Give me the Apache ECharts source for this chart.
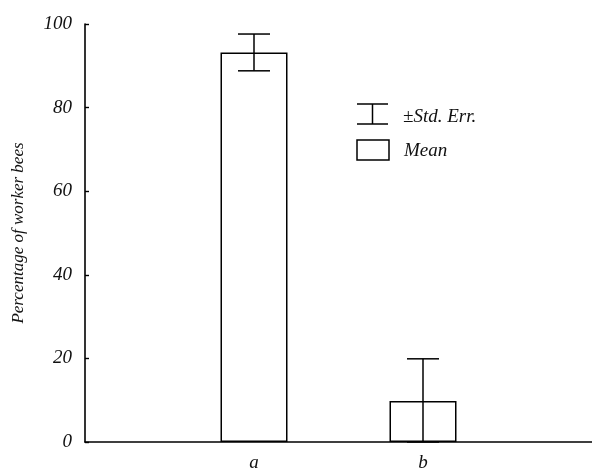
<!DOCTYPE html>
<html>
<head>
<meta charset="utf-8">
<script src="https://cdn.jsdelivr.net/npm/echarts@6/dist/echarts.min.js"></script>
<style>html,body{margin:0;padding:0;background:#fff;}#c{width:592px;height:468px;}</style>
</head>
<body>
<div id="c"></div>
<script>
var categories = ['', 'a', 'b', ''];
var means = [null, 93.2, 9.8, null];
var errLow = [null, 88.8, 0, null];
var errHigh = [null, 97.6, 19.9, null];
var yTicks = [0, 20, 40, 60, 80, 100];

var FONT = '"Liberation Serif", "DejaVu Serif", serif';
var errData = [];
for (var i = 0; i < categories.length; i++) {
  if (means[i] !== null) errData.push([i, errLow[i], errHigh[i]]);
}

var chart = echarts.init(document.getElementById('c'), null, {renderer: 'canvas'});
chart.setOption({
  animation: false,
  backgroundColor: '#fff',
  grid: {left: 85, right: 0, top: 24, bottom: 26, containLabel: false, outerBoundsMode: 'none'},
  xAxis: {
    type: 'category',
    data: categories,
    boundaryGap: false,
    axisLine: {show: true, lineStyle: {color: '#000', width: 1.6}},
    axisTick: {show: false},
    axisLabel: {fontFamily: FONT, fontStyle: 'italic', fontSize: 19, color: '#111', margin: 11},
    splitLine: {show: false}
  },
  yAxis: {
    type: 'value',
    min: yTicks[0],
    max: yTicks[yTicks.length - 1],
    interval: 20,
    name: 'Percentage of worker bees',
    nameLocation: 'middle',
    nameGap: 58,
    nameRotate: 90,
    nameTextStyle: {fontFamily: FONT, fontStyle: 'italic', fontSize: 17, color: '#111'},
    axisLine: {show: true, lineStyle: {color: '#000', width: 1.6}},
    axisTick: {show: true, inside: true, length: 4, lineStyle: {color: '#000', width: 1.4}},
    axisLabel: {fontFamily: FONT, fontStyle: 'italic', fontSize: 19, color: '#111', margin: 13},
    splitLine: {show: false}
  },
  series: [
    {
      type: 'bar',
      data: means,
      barWidth: 67,
      itemStyle: {color: '#fff', borderColor: '#000', borderWidth: 1.5},
      z: 2
    },
    {
      type: 'custom',
      data: errData,
      encode: {x: 0, y: [1, 2]},
      z: 3,
      renderItem: function (params, api) {
        var x = api.value(0);
        var lo = api.coord([x, api.value(1)]);
        var hi = api.coord([x, api.value(2)]);
        var hw = 16;
        var st = {stroke: '#000', lineWidth: 1.5};
        return {
          type: 'group',
          children: [
            {type: 'line', shape: {x1: hi[0], y1: hi[1], x2: lo[0], y2: lo[1]}, style: st},
            {type: 'line', shape: {x1: hi[0] - hw, y1: hi[1], x2: hi[0] + hw, y2: hi[1]}, style: st},
            {type: 'line', shape: {x1: lo[0] - hw, y1: lo[1], x2: lo[0] + hw, y2: lo[1]}, style: st}
          ]
        };
      }
    }
  ],
  graphic: [
    {type: 'line', shape: {x1: 357, y1: 104, x2: 388, y2: 104}, style: {stroke: '#000', lineWidth: 1.5}},
    {type: 'line', shape: {x1: 357, y1: 124, x2: 388, y2: 124}, style: {stroke: '#000', lineWidth: 1.5}},
    {type: 'line', shape: {x1: 372.5, y1: 104, x2: 372.5, y2: 124}, style: {stroke: '#000', lineWidth: 1.5}},
    {type: 'rect', shape: {x: 357, y: 140, width: 32, height: 20}, style: {fill: '#fff', stroke: '#000', lineWidth: 1.5}},
    {type: 'text', x: 403, y: 117, style: {text: '±Std. Err.', fontFamily: FONT, fontStyle: 'italic', fontSize: 19, fill: '#111', verticalAlign: 'middle', align: 'left'}},
    {type: 'text', x: 404, y: 151, style: {text: 'Mean', fontFamily: FONT, fontStyle: 'italic', fontSize: 19, fill: '#111', verticalAlign: 'middle', align: 'left'}}
  ]
});
</script>
</body>
</html>
